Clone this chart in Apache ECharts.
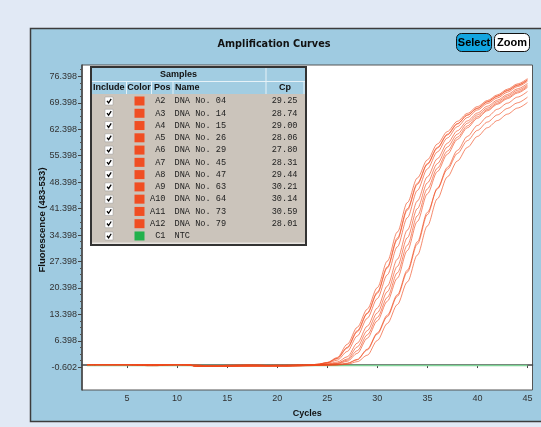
<!DOCTYPE html>
<html><head><meta charset="utf-8">
<script src="https://cdn.jsdelivr.net/npm/echarts@6/dist/echarts.min.js"></script>
<style>html,body{margin:0;padding:0;background:#e1e9f5;}#c{width:541px;height:427px;}</style>
</head><body><div id="c"></div>
<script>
// ---------- data ----------
const cycles = [1,2,3,4,5,6,7,8,9,10,11,12,13,14,15,16,17,18,19,20,21,22,23,24,25,26,27,28,29,30,31,32,33,34,35,36,37,38,39,40,41,42,43,44,45];
const yTickLabels = [-0.602, 6.398, 13.398, 20.398, 27.398, 34.398, 41.398, 48.398, 55.398, 62.398, 69.398, 76.398];
const xTickLabels = [5, 10, 15, 20, 25, 30, 35, 40, 45];
const samplePos = ['A2','A3','A4','A5','A6','A7','A8','A9','A10','A11','A12','C1'];
const sampleNames = ['DNA No. 04','DNA No. 14','DNA No. 15','DNA No. 26','DNA No. 29','DNA No. 45','DNA No. 47','DNA No. 63','DNA No. 64','DNA No. 73','DNA No. 79','NTC'];
const sampleCp = ['29.25','28.74','29.00','28.06','27.80','28.31','29.44','30.21','30.14','30.59','28.01',''];
const sampleKind = ['pos','pos','pos','pos','pos','pos','pos','pos','pos','pos','pos','ntc'];

const A2  = [0.1,0.1,0.1,0.1,0.1,0.0,0.1,0.1,0.1,0.1,0.0,-0.3,-0.3,-0.3,-0.2,-0.1,-0.1,-0.2,-0.2,-0.1,-0.2,-0.1,-0.1,0.0,0.1,0.4,1.3,3.8,8.0,12.6,17.9,24.4,31.7,39.5,46.6,52.1,56.6,60.3,63.3,65.7,67.6,69.3,70.8,72.3,73.8];
const A3  = [0.1,0.1,0.1,0.1,0.1,0.1,-0.2,-0.2,0.1,0.1,0.1,-0.3,-0.3,-0.3,0.0,0.0,0.0,-0.1,-0.1,0.0,-0.1,0.0,0.0,0.1,0.3,0.8,2.2,5.8,10.3,15.1,20.9,28.0,35.7,43.4,49.8,54.6,58.7,62.0,64.6,66.7,68.5,70.1,71.6,73.1,74.5];
const A4  = [0.1,0.1,0.1,0.1,0.1,0.0,0.0,0.0,0.1,0.1,0.1,-0.3,-0.3,-0.3,-0.3,-0.2,-0.2,-0.2,-0.2,-0.2,-0.2,-0.1,-0.1,0.0,0.2,0.5,1.6,4.8,9.1,13.8,19.4,26.1,33.7,41.4,48.2,53.3,57.7,61.1,64.0,66.2,68.0,69.7,71.2,72.7,74.1];
const A5  = [0.1,0.1,0.1,0.1,0.1,0.1,0.1,0.1,0.1,0.1,0.1,0.1,-0.3,-0.3,-0.3,-0.2,0.0,0.0,-0.1,-0.1,0.0,0.0,0.0,0.2,0.6,1.7,4.5,8.8,13.6,19.0,25.7,33.2,41.0,47.8,53.1,57.4,60.9,63.8,66.1,67.9,69.6,71.1,72.6,74.0,75.4];
const A6  = [0.1,0.1,0.1,0.1,0.1,0.1,0.1,-0.1,-0.1,0.1,0.1,-0.3,-0.3,-0.3,-0.3,-0.3,-0.3,-0.2,-0.2,-0.2,-0.1,-0.1,0.0,0.2,0.7,2.0,5.5,10.0,14.8,20.5,27.5,35.2,43.0,49.5,54.3,58.5,61.8,64.5,66.6,68.4,70.0,71.5,73.0,74.4,75.8];
const A7  = [0.1,0.1,0.1,0.1,0.1,0.0,0.0,0.1,0.1,0.1,0.0,-0.3,-0.3,-0.3,-0.3,-0.2,0.0,0.0,-0.1,-0.1,-0.1,0.0,0.0,0.1,0.5,1.3,3.6,7.7,12.4,17.6,23.9,31.3,39.0,46.2,51.9,56.4,60.1,63.1,65.5,67.5,69.2,70.7,72.2,73.7,75.1];
const A8  = [0.1,0.1,0.1,0.1,0.1,0.1,0.1,0.1,0.1,0.1,0.1,-0.3,-0.3,-0.3,-0.3,-0.3,-0.2,-0.2,-0.2,-0.2,-0.2,-0.1,-0.1,0.0,0.1,0.3,1.0,3.1,7.1,11.7,16.9,23.0,30.3,38.0,45.3,51.2,55.8,59.7,62.8,65.3,67.3,69.0,70.5,72.0,73.5];
const A9  = [0.1,0.1,0.1,0.1,0.1,0.0,-0.1,-0.1,0.1,0.1,0.1,-0.3,-0.3,-0.3,-0.3,-0.3,-0.3,-0.3,-0.3,-0.3,-0.3,-0.2,-0.1,-0.1,0.0,0.1,0.4,1.4,4.0,8.2,12.8,18.2,24.6,32.0,39.8,46.8,52.3,56.8,60.5,63.4,65.7,67.7,69.3,70.9,72.4];
const A10 = [0.1,0.1,0.1,0.1,0.1,0.1,0.1,0.1,0.1,0.1,0.0,-0.3,-0.3,-0.3,-0.2,-0.2,-0.2,-0.2,-0.3,-0.3,-0.3,-0.2,-0.1,0.0,0.0,0.1,0.5,1.5,4.2,8.5,13.2,18.6,25.1,32.6,40.4,46.6,51.8,56.0,59.4,62.1,64.3,66.2,67.9,69.4,70.9];
const A11 = [0.1,0.1,0.1,0.1,0.1,0.1,0.1,0.1,0.1,0.1,0.1,-0.3,-0.3,-0.3,-0.3,-0.3,-0.3,-0.3,-0.3,-0.3,-0.3,-0.3,-0.2,-0.1,-0.1,0.0,0.2,0.9,2.6,6.5,11.0,16.0,22.0,29.1,36.8,44.0,49.8,54.0,57.6,60.5,62.8,64.7,66.4,68.0,69.5];
const A12 = [0.1,0.1,0.1,0.1,0.1,0.1,0.1,0.1,0.1,0.1,0.1,-0.3,-0.3,-0.3,-0.2,0.0,0.0,0.0,-0.1,-0.1,-0.1,0.0,0.0,0.2,0.6,1.8,4.7,9.1,13.8,19.3,26.0,33.6,41.4,48.1,53.3,57.6,61.1,63.9,66.2,68.0,69.7,71.2,72.7,74.1,75.5];
const C1  = [-0.1,-0.1,-0.1,-0.1,-0.1,-0.1,-0.1,-0.1,-0.1,-0.1,-0.1,-0.1,-0.1,-0.1,-0.1,-0.1,-0.1,-0.1,-0.1,-0.1,-0.1,-0.1,-0.1,-0.1,-0.1,-0.1,-0.1,-0.1,-0.1,-0.1,-0.1,-0.1,-0.1,-0.1,-0.1,-0.1,-0.1,-0.1,-0.1,-0.1,-0.1,-0.1,-0.1,-0.1,-0.1];
const curves = [A2, A3, A4, A5, A6, A7, A8, A9, A10, A11, A12, C1];

// ---------- styles ----------
const COLORS = { pos: '#f04e23', ntc: '#22b14c' };
const LINECOLORS = { pos: 'rgba(240,74,30,0.72)', ntc: '#7fd497' };
const PANEL = '#9fcbe1', OUTER = '#e1e9f5', DARK = '#3c3c3c';

const chart = echarts.init(document.getElementById('c'), null, {renderer: 'canvas'});

const Y_MIN = -6.602, Y_MAX = 79.398;
const minorTicks = [];
for (let i = 0; i < yTickLabels.length; i++) {
  for (let k = 1; k <= 3; k++) {
    const v = +(yTickLabels[i] + k * 1.75).toFixed(3);
    if (v < Y_MAX) minorTicks.push(v);
  }
}

const series = curves.map((d, i) => ({
  type: 'line',
  name: samplePos[i],
  data: cycles.map((c, j) => [c, d[j]]),
  showSymbol: false,
  smooth: 0.3,
  smoothMonotone: 'x',
  silent: true,
  z: sampleKind[i] === 'ntc' ? 1 : 2,
  lineStyle: { width: sampleKind[i] === 'ntc' ? 1.5 : 0.9, color: LINECOLORS[sampleKind[i]] },
  itemStyle: { color: LINECOLORS[sampleKind[i]] }
}));

// ---------- graphic: panel, title, buttons, table ----------
const g = [];
g.push({ type: 'rect', shape: {x: 0, y: 0, width: 541, height: 28}, style: {fill: OUTER}, z: 100 });
g.push({ type: 'rect', shape: {x: 0, y: 0, width: 30, height: 427}, style: {fill: OUTER}, z: 100 });
g.push({ type: 'rect', shape: {x: 0, y: 422, width: 541, height: 5}, style: {fill: OUTER}, z: 100 });
g.push({ type: 'polyline', shape: {points: [[545, 28.5], [30.5, 28.5], [30.5, 421.5], [545, 421.5]]}, style: {stroke: DARK, lineWidth: 1.5, fill: null}, z: 101 });
g.push({ type: 'text', style: { x: 274, y: 44, text: 'Amplification Curves', font: 'bold 9.7px "DejaVu Sans"', fill: '#111', align: 'center', verticalAlign: 'middle' }, z: 101 });
g.push({ type: 'rect', shape: {x: 456.5, y: 33.5, width: 35, height: 18, r: 5}, style: {fill: '#12a5e0', stroke: '#111', lineWidth: 1}, z: 101 });
g.push({ type: 'text', style: { x: 474, y: 43, text: 'Select', font: 'bold 11px "Liberation Sans"', fill: '#000', align: 'center', verticalAlign: 'middle' }, z: 102 });
g.push({ type: 'rect', shape: {x: 494.5, y: 33.5, width: 35, height: 18, r: 5}, style: {fill: '#fff', stroke: '#111', lineWidth: 1}, z: 101 });
g.push({ type: 'text', style: { x: 512, y: 43, text: 'Zoom', font: 'bold 11px "Liberation Sans"', fill: '#000', align: 'center', verticalAlign: 'middle' }, z: 102 });
// y axis name
g.push({ type: 'text', x: 42, y: 220, rotation: Math.PI / 2, style: { x: 0, y: 0, text: 'Fluorescence (483-533)', font: 'bold 9.5px "Liberation Sans"', fill: '#111', align: 'center', verticalAlign: 'middle' }, z: 101 });

// table
const TX0 = 91, TX1 = 306, TY0 = 67, TY1 = 245, H1 = 81.5, H2 = 94, ROWH = 12.27;
const HDR = '#a2cde2', BODY = '#cbc4bb';
g.push({ type: 'rect', shape: {x: TX0, y: TY0, width: TX1 - TX0, height: TY1 - TY0}, style: {fill: '#e8e5e1'}, z: 110 });
g.push({ type: 'rect', shape: {x: TX0, y: TY0, width: TX1 - TX0, height: H2 - TY0}, style: {fill: HDR}, z: 111 });
g.push({ type: 'rect', shape: {x: TX0, y: H2, width: TX1 - TX0, height: 148.5}, style: {fill: BODY}, z: 111 });
const sepStyle = {stroke: '#e6f2f8', lineWidth: 1};
g.push({ type: 'line', shape: {x1: TX0, y1: H1, x2: TX1, y2: H1}, style: sepStyle, z: 112 });
g.push({ type: 'line', shape: {x1: 266, y1: TY0, x2: 266, y2: H2}, style: sepStyle, z: 112 });
[126.5, 151.5, 173, 304].forEach(x => g.push({ type: 'line', shape: {x1: x, y1: H1, x2: x, y2: H2}, style: sepStyle, z: 112 }));
g.push({ type: 'rect', shape: {x: TX0, y: TY0, width: TX1 - TX0, height: TY1 - TY0}, style: {fill: null, stroke: '#333', lineWidth: 2}, z: 115 });
const hFont = 'bold 9px "Liberation Sans"';
const hText = (x, y, t, al) => g.push({ type: 'text', style: {x, y, text: t, font: hFont, fill: '#111', align: al || 'center', verticalAlign: 'middle'}, z: 113 });
hText(178.5, 74.5, 'Samples');
hText(108.8, 88, 'Include');
hText(139, 88, 'Color');
hText(162.3, 88, 'Pos');
hText(175, 88, 'Name', 'left');
hText(285, 88, 'Cp');
const mFont = '8.6px "Liberation Mono"';
samplePos.forEach((p, i) => {
  const cy = 101 + i * ROWH;
  g.push({ type: 'rect', shape: {x: 105, y: cy - 4, width: 8, height: 8}, style: {fill: '#fff', stroke: '#999', lineWidth: 0.5}, z: 113 });
  g.push({ type: 'polyline', shape: {points: [[107, cy - 0.2], [108.6, cy + 1.8], [111.2, cy - 2.2]]}, style: {stroke: '#000', lineWidth: 1.3, fill: null}, z: 114 });
  g.push({ type: 'rect', shape: {x: 134.5, y: cy - 4.5, width: 10, height: 9}, style: {fill: COLORS[sampleKind[i]]}, z: 113 });
  g.push({ type: 'text', style: {x: 165.5, y: cy, text: p, font: mFont, fill: '#222', align: 'right', verticalAlign: 'middle'}, z: 113 });
  g.push({ type: 'text', style: {x: 174.5, y: cy, text: sampleNames[i], font: mFont, fill: '#222', align: 'left', verticalAlign: 'middle'}, z: 113 });
  if (sampleCp[i]) g.push({ type: 'text', style: {x: 297.5, y: cy, text: sampleCp[i], font: mFont, fill: '#222', align: 'right', verticalAlign: 'middle'}, z: 113 });
});

const axisFont = { fontFamily: 'Liberation Sans', fontSize: 9, color: '#333' };

chart.setOption({
  animation: false,
  backgroundColor: PANEL,
  grid: { left: 82, right: 8.5, top: 65, bottom: 37, show: true, backgroundColor: '#fff', borderColor: '#555', borderWidth: 1 },
  xAxis: {
    type: 'value', min: 0.5, max: 45.5,
    name: 'Cycles', nameLocation: 'middle', nameGap: 19,
    nameTextStyle: { fontFamily: 'Liberation Sans', fontSize: 9, fontWeight: 'bold', color: '#111' },
    axisLine: { show: true, lineStyle: { color: '#444', width: 1.5 } },
    axisTick: { show: true, length: 3, lineStyle: { color: '#444' }, customValues: xTickLabels },
    axisLabel: Object.assign({ margin: 4, customValues: xTickLabels }, axisFont),
    splitLine: { show: false }
  },
  yAxis: [{
    type: 'value', min: Y_MIN, max: Y_MAX,
    axisLine: { show: true, lineStyle: { color: '#444', width: 1.5 } },
    axisTick: { show: true, length: 4, lineStyle: { color: '#444' }, customValues: yTickLabels },
    axisLabel: Object.assign({ margin: 5, customValues: yTickLabels, formatter: v => v.toFixed(3) }, axisFont),
    splitLine: { show: false }
  }, {
    type: 'value', min: Y_MIN, max: Y_MAX, position: 'left',
    axisLine: { show: false },
    axisTick: { show: true, length: 2, lineStyle: { color: '#555' }, customValues: minorTicks },
    axisLabel: { show: false },
    splitLine: { show: false }
  }],
  series: series,
  graphic: g
});
</script>
</body></html>
